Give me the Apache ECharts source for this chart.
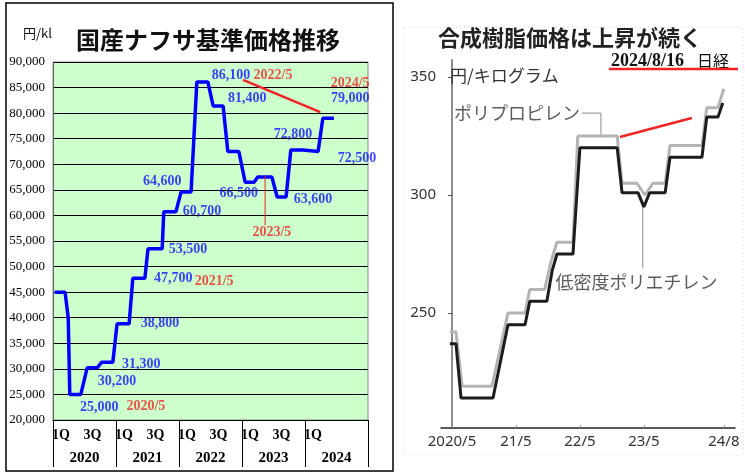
<!DOCTYPE html>
<html>
<head>
<meta charset="utf-8">
<script src="https://cdn.jsdelivr.net/npm/echarts@6/dist/echarts.min.js"></script>
<style>
html, body { margin: 0; padding: 0; background: #fff; }
#main { width: 745px; height: 476px; }
</style>
</head>
<body>
<div id="main"></div>
<script>
// 国産ナフサ基準価格 (円/kl) : x = months since 2020/1
var naphthaMonths = [0.3, 2.3, 2.9, 3.2, 5.3, 6.5, 8.4, 9.3, 11.4, 12.2, 14.5, 15.2, 17.5, 18.1, 20.8, 21.1, 23.4, 24.4, 26.3, 27.4,
    29.5, 30.5, 32.4, 33.3, 35.4, 36.6, 38.3, 39.0, 41.7, 42.7, 44.4, 45.3, 47.6, 47.8, 50.5, 51.4, 53.5];
var naphthaPrices = [45000, 45000, 40000, 25000, 25000, 30200, 30200, 31300, 31300, 38800, 38800, 47700, 47700, 53500, 53500, 60700, 60700, 64600, 64600, 86100,
    86100, 81400, 81400, 72500, 72500, 66500, 66500, 67500, 67500, 63600, 63600, 72800, 72800, 72500, 72500, 79000, 79000];
var quarterLabels = ["1Q", "", "3Q", "", "1Q", "", "3Q", "", "1Q", "", "3Q", "", "1Q", "", "3Q", "", "1Q", "", "", ""];
var yearLabels = ["2020", "2021", "2022", "2023", "2024"];

// notes on the naphtha chart
var noteTexts = ["86,100", "2022/5", "2024/5", "79,000", "81,400", "72,800", "72,500", "64,600", "66,500", "63,600",
    "60,700", "2023/5", "53,500", "47,700", "2021/5", "38,800", "31,300", "30,200", "25,000", "2020/5"];
var noteMonths = [33.9, 41.9, 56.6, 56.6, 37.0, 45.7, 57.9, 20.8, 35.4, 49.5, 28.4, 41.7, 25.7, 22.9, 30.7, 20.4, 16.8, 12.2, 8.8, 17.7];
var notePrices = [87300, 87300, 85900, 82800, 82800, 75900, 71200, 66700, 64400, 63200, 60700, 56600, 53400, 47600, 47200, 38800, 30800, 27600, 22500, 22700];
var noteRed = [0, 1, 1, 0, 0, 0, 0, 0, 0, 0, 0, 1, 0, 0, 1, 0, 0, 0, 0, 1];
var naphthaArrows = [
    [[36.2, 86500], [50.9, 80200]],
    [[40.4, 67700], [40.4, 58100]]
];

// 合成樹脂価格 (円/kg) : x = months since 2020/5
var resinTickMonths = [0, 12, 24, 36, 51];
var resinTickLabels = ["2020/5", "21/5", "22/5", "23/5", "24/8"];
var resinTickValues = [250, 300, 350];
var ppMonths = [-0.4, 0.75, 1.9, 7.5, 10.5, 13.7, 14.6, 17.4, 18.6, 19.7, 22.7, 23.6, 31.0, 31.9, 34.7, 36.2, 37.7, 40.0, 40.9, 46.9, 47.8, 49.9, 51.0];
var ppPrices = [242, 242, 219, 219, 250, 250, 260, 260, 272, 280, 280, 325, 325, 305, 305, 300, 305, 305, 321, 321, 337, 337, 345];
var ldpeMonths = [-0.4, 0.75, 1.7, 7.7, 10.5, 13.7, 14.6, 17.8, 18.8, 19.7, 22.7, 24.0, 31.0, 31.9, 34.9, 36.0, 37.1, 40.0, 40.9, 46.9, 47.8, 49.9, 50.8];
var ldpePrices = [237, 237, 214, 214, 245, 245, 255, 255, 268, 275, 275, 320, 320, 301, 301, 295, 301, 301, 316, 316, 333, 333, 339];
var resinNoteTexts = ["ポリプロピレン", "低密度ポリエチレン"];
var resinNoteMonths = [12.2, 34.6];
var resinNotePrices = [334.7, 263.1];
var resinLeaders = [
    [[24.4, 334.7], [27.95, 334.7], [27.95, 325.4]],
    [[35.8, 295.3], [35.8, 269]]
];
var resinArrow = [[31.5, 324.6], [45.0, 332.6]];

var SERIF = '"Liberation Serif", "Times New Roman", serif';
var CJK = '"Noto Sans CJK JP", "Noto Sans", sans-serif';
var BLUE = "#1010ff", RED = "#f02424";

function comma(v) {
    return String(v).replace(/\B(?=(\d{3})+(?!\d))/g, ",");
}
function zip(a, b) {
    var out = [];
    for (var i = 0; i < a.length; i++) out.push([a[i], b[i]]);
    return out;
}

var chart = echarts.init(document.getElementById("main"), null, { renderer: "canvas" });

var series = [];
series.push({
    type: "line", xAxisIndex: 0, yAxisIndex: 0,
    data: zip(naphthaMonths, naphthaPrices),
    symbol: "none", lineStyle: { color: "#0000ff", width: 3.5 }, z: 3
});
naphthaArrows.forEach(function(seg, i) {
    series.push({
        type: "line", xAxisIndex: 0, yAxisIndex: 0, data: seg, symbol: "none",
        lineStyle: { color: RED, width: i == 0 ? 2.5 : 1 }, z: 4
    });
});
var notes = [];
for (var i = 0; i < noteTexts.length; i++) {
    notes.push({
        name: noteTexts[i], value: [noteMonths[i], notePrices[i]],
        label: { color: noteRed[i] ? RED : BLUE }
    });
}
series.push({
    type: "scatter", xAxisIndex: 0, yAxisIndex: 0, data: notes, symbolSize: 0, clip: false, z: 5,
    itemStyle: { color: "transparent" },
    label: {
        show: true, position: [0, 0], align: "center", verticalAlign: "middle", formatter: "{b}",
        fontFamily: SERIF, fontWeight: "bold", fontSize: 14, textBorderWidth: 0
    }
});

series.push({
    type: "line", xAxisIndex: 3, yAxisIndex: 1, data: zip(ppMonths, ppPrices), symbol: "none",
    lineStyle: { color: "#b4b4b4", width: 3 }, z: 2
});
series.push({
    type: "line", xAxisIndex: 3, yAxisIndex: 1, data: zip(ldpeMonths, ldpePrices), symbol: "none",
    lineStyle: { color: "#1c1c1c", width: 3 }, z: 3
});
resinLeaders.forEach(function(seg) {
    series.push({
        type: "line", xAxisIndex: 3, yAxisIndex: 1, data: seg, symbol: "none",
        lineStyle: { color: "#8a8a8a", width: 1 }, z: 1
    });
});
series.push({
    type: "line", xAxisIndex: 3, yAxisIndex: 1, data: resinArrow, symbol: "none",
    lineStyle: { color: RED, width: 2.5 }, z: 4
});
series.push({
    type: "scatter", xAxisIndex: 3, yAxisIndex: 1, symbolSize: 0, clip: false, z: 5,
    itemStyle: { color: "transparent" },
    data: resinNoteTexts.map(function(t, i) { return { name: t, value: [resinNoteMonths[i], resinNotePrices[i]] }; }),
    label: {
        show: true, position: [0, 0], align: "center", verticalAlign: "middle", formatter: "{b}",
        fontFamily: CJK, fontSize: 18, color: "#333", textBorderWidth: 0
    }
});

function text(x, y, s, font, color, align) {
    return {
        type: "text", x: x, y: y, z: 10,
        style: { text: s, font: font, fill: color, align: align || "left", textAlign: align || "left", verticalAlign: "middle", textVerticalAlign: "middle" }
    };
}

var option = {
    animation: false,
    backgroundColor: "#fff",
    grid: [
        { left: 53, top: 62, width: 315, height: 358, show: true, backgroundColor: "#ccffcc", borderColor: "#8a8a8a", borderWidth: 1 },
        { left: 441, top: 60, width: 294, height: 368 }
    ],
    xAxis: [
        { type: "value", gridIndex: 0, min: 0, max: 60, show: false },
        {
            type: "category", gridIndex: 0, position: "bottom", data: quarterLabels,
            axisLine: { lineStyle: { color: "#000", width: 1 } }, axisTick: { show: false },
            axisLabel: { interval: 0, margin: 8, fontFamily: SERIF, fontWeight: "bold", fontSize: 14, color: "#000" }
        },
        {
            type: "category", gridIndex: 0, position: "bottom", data: yearLabels,
            axisLine: { show: false },
            axisTick: { show: true, interval: 0, length: 47, lineStyle: { color: "#000", width: 1 } },
            axisLabel: { interval: 0, margin: 31, fontFamily: SERIF, fontWeight: "bold", fontSize: 15, color: "#000" }
        },
        {
            type: "value", gridIndex: 1, min: -2.06, max: 53.1,
            axisLine: { lineStyle: { color: "#222", width: 1.5 } },
            axisTick: { show: true, inside: true, length: 3, customValues: resinTickMonths, lineStyle: { color: "#999" } },
            axisLabel: {
                customValues: resinTickMonths, margin: 6, fontFamily: "Noto Sans", fontSize: 15, color: "#333",
                formatter: function(v) { return resinTickLabels[resinTickMonths.indexOf(v)]; }
            },
            splitLine: { show: false }
        }
    ],
    yAxis: [
        {
            type: "value", gridIndex: 0, min: 20000, max: 90000, interval: 5000,
            axisLine: { show: true, lineStyle: { color: "#666" } }, axisTick: { show: false },
            axisLabel: { margin: 8, fontFamily: SERIF, fontSize: 13, color: "#000", formatter: comma },
            splitLine: { lineStyle: { color: "#000", width: 1 } }
        },
        {
            type: "value", gridIndex: 1, min: 201.3, max: 357.2,
            axisLine: { show: true, lineStyle: { color: "#8c8c8c", width: 2 } },
            axisTick: { show: true, length: 4, customValues: resinTickValues, lineStyle: { color: "#555" } },
            axisLabel: { customValues: resinTickValues, margin: 5, fontFamily: "Noto Sans", fontSize: 15, color: "#333" },
            splitLine: { show: false }
        }
    ],
    series: series,
    graphic: [
        { type: "rect", shape: { x: 6, y: 3, width: 387, height: 468 }, style: { fill: "none", stroke: "#000", lineWidth: 1.5 }, z: 0 },
        { type: "rect", shape: { x: 404, y: 27, width: 339, height: 428 }, style: { fill: "none", stroke: "#d8d8d8", lineWidth: 1, lineDash: [1, 3] }, z: 0 },
        text(208, 40, "国産ナフサ基準価格推移", "bold 24px " + CJK, "#111", "center"),
        text(23, 33, "円/kl", "13px " + CJK, "#111"),
        text(570, 38, "合成樹脂価格は上昇が続く", "bold 22px " + CJK, "#222", "center"),
        text(450, 76, "円/キログラム", "17px " + CJK, "#333"),
        text(611, 61, "2024/8/16", "bold 18px " + SERIF, "#111"),
        text(697, 61, "日経", "16px " + CJK, "#111"),
        { type: "line", shape: { x1: 609, y1: 69, x2: 738, y2: 69 }, style: { stroke: RED, lineWidth: 2.5 }, z: 10 }
    ]
};
chart.setOption(option);
</script>
</body>
</html>
